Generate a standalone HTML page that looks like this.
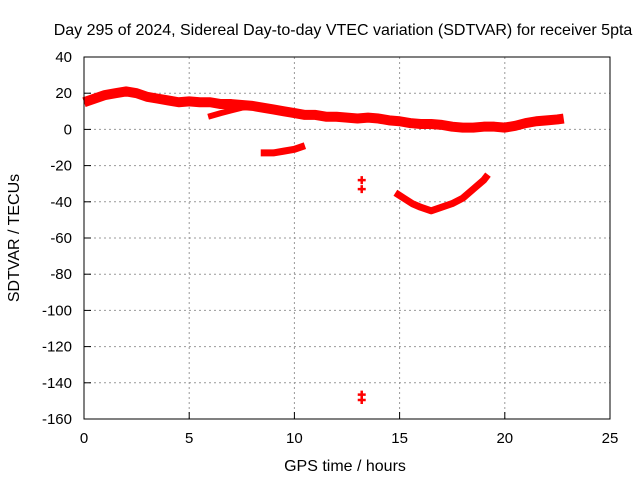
<!DOCTYPE html>
<html><head><meta charset="utf-8"><style>body{margin:0;background:#fff}svg{display:block;font-family:"Liberation Sans",sans-serif}</style></head>
<body>
<svg id="c" width="640" height="480" xmlns="http://www.w3.org/2000/svg">
<rect width="640" height="480" fill="#fff"/>
<text x="343" y="35" font-size="16" text-anchor="middle">Day 295 of 2024, Sidereal Day-to-day VTEC variation (SDTVAR) for receiver 5pta</text>
<text x="345" y="471" font-size="16" text-anchor="middle">GPS time / hours</text>
<text transform="translate(19,238) rotate(-90)" font-size="16" text-anchor="middle">SDTVAR / TECUs</text>
<g id="grid"></g><g id="data"></g>
<rect x="84" y="57" width="526" height="362" fill="none" stroke="#000"/>
</svg>
<script>
const xTicks=[0,5,10,15,20,25];
const yTicks=[40,20,0,-20,-40,-60,-80,-100,-120,-140,-160];
const mainT=[0,0.5,1,1.5,2,2.5,3,3.5,4,4.5,5,5.5,6,6.5,7,7.5,8,8.5,9,9.5,10,10.5,11,11.5,12,12.5,13,13.5,14,14.5,15,15.5,16,16.5,17,17.5,18,18.5,19,19.5,20,20.5,21,21.5,22,22.5,22.8];
const mainV=[15,17,19,20,21,20,18,17,16,15,15.5,15,15,14,14,13.5,13,12,11,10,9,8,8,7,7,6.5,6,6.5,6,5,4.5,3.5,3,3,2.5,1.5,1,1,1.5,1.5,1,2,3.5,4.5,5,5.5,6];
const arcT=[5.9,6.5,7,7.5,8];
const arcV=[7,9,10.5,12,12.5];
const segT=[8.4,9,9.5,10,10.5];
const segV=[-13,-13,-12,-11,-9];
const dipT=[14.8,15.2,15.6,16,16.5,17,17.5,18,18.5,19,19.2];
const dipV=[-35,-38,-41,-43,-45,-43,-41,-38,-33,-28,-25];
const ptT=[13.2,13.2,13.2,13.2];
const ptV=[-28,-33,-146.5,-149.5];
const X=t=>84+t*526/25, Y=v=>57+(40-v)*362/200;
const NS="http://www.w3.org/2000/svg";
const g=document.getElementById('grid'), d=document.getElementById('data');
function mk(tag,a,p){const e=document.createElementNS(NS,tag);for(const k in a)e.setAttribute(k,a[k]);p.appendChild(e);return e;}
xTicks.forEach(t=>{
 if(t>0&&t<25){const l=mk('line',{x1:X(t),x2:X(t),y1:57,y2:419,stroke:'#999','stroke-dasharray':'2,3'},g);
 
 }
 const tk=mk('line',{x1:X(t),x2:X(t),y1:419,y2:412,stroke:'#000'},g);
 
 
 const tx=mk('text',{x:X(t),y:443,'font-size':15,'text-anchor':'middle'},g);tx.textContent=t;
 
 
});
yTicks.forEach(v=>{
 if(v<40&&v>-160){const l=mk('line',{x1:84,x2:610,y1:Y(v),y2:Y(v),stroke:'#999','stroke-dasharray':'2,3'},g);
 
 }
 const tk=mk('line',{x1:84,x2:91,y1:Y(v),y2:Y(v),stroke:'#000'},g);
 
 
 const tx=mk('text',{x:72,y:Y(v)+5,'font-size':15,'text-anchor':'end'},g);tx.textContent=v;
 
 
});
function band(T,V,w,name){
 const p=mk('polyline',{points:T.map((t,i)=>X(t)+','+Y(V[i])).join(' '),fill:'none',stroke:'#f00','stroke-width':w,'stroke-linejoin':'round'},d);
 
 
}
band(mainT,mainV,10,'main-series-band');
band(arcT,arcV,6,'arc-series-band');
band(segT,segV,7,'short-series-band');
band(dipT,dipV,7,'dip-series-band');
ptT.forEach((t,i)=>{
 const p=mk('path',{d:`M${X(t)-4},${Y(ptV[i])}h8M${X(t)},${Y(ptV[i])-4}v8`,stroke:'#f00','stroke-width':2.5},d);
 
 
});
</script>
</body></html>
